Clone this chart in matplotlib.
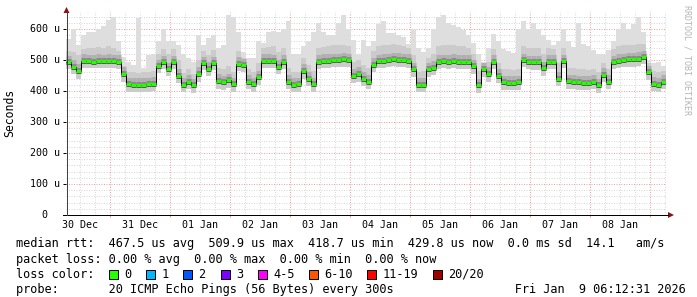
import numpy as np
import matplotlib
matplotlib.use("Agg")
import matplotlib.pyplot as plt
import matplotlib.dates as mdates
import matplotlib.transforms as mtransforms
from matplotlib.patches import Polygon, Rectangle
from matplotlib.lines import Line2D
from matplotlib.ticker import FixedLocator
from datetime import datetime, timedelta

W, H = 697, 297
MONO = "DejaVu Sans Mono"

# ---------------- data (microseconds) ----------------
start = datetime(2025, 12, 30, 6, 12, 31)
end = datetime(2026, 1, 9, 6, 12, 31)
step_hours = 2

median_us = [
    492, 478, 465, 498, 496, 495, 497, 496, 497, 496,
    494, 455, 422, 420, 420, 420, 422, 424, 480, 493,
    470, 493, 450, 420, 430, 418, 455, 490, 472, 490,
    433, 428, 435, 421, 488, 483, 430, 422, 445, 497,
    497, 496, 478, 495, 430, 420, 422, 465, 440, 421,
    495, 497, 498, 499, 500, 502, 500, 450, 455, 440,
    430, 485, 496, 497, 499, 503, 501, 499, 497, 470,
    420, 420, 470, 475, 495, 496, 495, 497, 495, 494,
    495, 480, 418, 470, 455, 494, 450, 428, 427, 427,
    428, 500, 493, 492, 492, 473, 495, 495, 440, 496,
    432, 430, 428, 427, 426, 430, 418, 452, 430, 493,
    498, 500, 502, 502, 504, 509, 460, 423, 420, 430,
]
smoke_lo_us = [
    470, 455, 440, 475, 474, 473, 475, 474, 475, 474,
    472, 430, 398, 396, 396, 397, 398, 400, 458, 470,
    448, 470, 425, 396, 405, 395, 430, 468, 448, 467,
    408, 404, 410, 397, 465, 460, 405, 398, 420, 474,
    474, 473, 455, 472, 405, 396, 398, 440, 416, 397,
    472, 474, 474, 476, 477, 479, 476, 425, 430, 415,
    405, 462, 473, 474, 476, 480, 478, 476, 474, 446,
    396, 396, 446, 452, 472, 473, 472, 474, 472, 471,
    472, 456, 394, 445, 430, 470, 425, 404, 403, 403,
    404, 477, 470, 469, 469, 450, 472, 472, 415, 473,
    408, 406, 404, 403, 402, 406, 394, 428, 406, 470,
    475, 477, 479, 479, 481, 486, 436, 399, 396, 406,
]
smoke_hi_us = [
    530, 525, 515, 535, 540, 538, 542, 540, 545, 540,
    530, 480, 462, 460, 458, 460, 462, 465, 520, 535,
    520, 535, 500, 458, 470, 455, 500, 530, 515, 532,
    475, 470, 480, 462, 530, 505, 470, 462, 490, 540,
    542, 545, 525, 540, 475, 460, 462, 505, 485, 465,
    540, 542, 545, 548, 550, 550, 545, 495, 500, 485,
    475, 530, 545, 548, 548, 552, 548, 546, 540, 515,
    462, 465, 505, 520, 545, 548, 550, 548, 545, 545,
    540, 520, 465, 490, 495, 535, 490, 470, 470, 468,
    470, 545, 540, 538, 540, 520, 538, 535, 490, 540,
    475, 475, 472, 470, 468, 470, 462, 490, 472, 535,
    545, 548, 550, 550, 552, 552, 490, 465, 462, 465,
]
smoke_max_us = [
    567, 600, 550, 580, 590, 590, 600, 610, 630, 640,
    560, 510, 495, 485, 635, 475, 515, 520, 560, 600,
    560, 560, 550, 520, 505, 495, 580, 550, 570, 580,
    540, 547, 645, 640, 590, 525, 505, 505, 560, 555,
    590, 595, 590, 600, 625, 520, 520, 545, 560, 590,
    620, 590, 580, 580, 620, 645, 600, 565, 520, 565,
    545, 560, 615, 625, 586, 586, 580, 575, 553, 600,
    540, 525, 540, 600, 640, 645, 620, 612, 605, 596,
    580, 555, 520, 495, 540, 585, 560, 535, 530, 524,
    600, 625, 600, 620, 600, 580, 565, 550, 560, 600,
    560, 541, 620, 553, 545, 531, 520, 520, 531, 560,
    600, 620, 601, 615, 640, 590, 500, 490, 492, 482,
]

y_ticks_us = [0, 100, 200, 300, 400, 500, 600]
y_tick_labels = ["  0  ", "100 u", "200 u", "300 u", "400 u", "500 u", "600 u"]

legend_rtt = "median rtt:  467.5 us avg  509.9 us max  418.7 us min  429.8 us now  0.0 ms sd  14.1   am/s"
legend_loss = "packet loss: 0.00 % avg  0.00 % max  0.00 % min  0.00 % now"
legend_probe = "probe:       20 ICMP Echo Pings (56 Bytes) every 300s                 Fri Jan  9 06:12:31 2026"
loss_labels = ["0", "1", "2", "3", "4-5", "6-10", "11-19", "20/20"]
loss_colors = ["#26ff00", "#00b8ff", "#0059ff", "#7e00ff", "#ff00ff", "#ff5500", "#ff0000", "#a10000"]

# ---------------- figure ----------------
fig = plt.figure(figsize=(W / 100, H / 100), dpi=100)
fig.patch.set_facecolor("white")


def fx(px):
    return px / W


def fy(py):
    return 1 - py / H


AX_L, AX_R, AX_B, AX_T = 66, 666, 215, 12
PX_PER_U = 0.31
ax = fig.add_axes([fx(AX_L), fy(AX_B), fx(AX_R) - fx(AX_L), fy(AX_T) - fy(AX_B)])
ax.set_facecolor("white")

t = np.array([mdates.date2num(start + timedelta(hours=step_hours * i)) for i in range(len(median_us))])
t_end = t + step_hours / 24.0
edges = np.append(t, t_end[-1])

med = np.array(median_us, float)
lo = np.array(smoke_lo_us, float)
hi = np.array(smoke_hi_us, float)
mx = np.array(smoke_max_us, float)


def ext(a):
    return np.append(a, a[-1])


ax.set_xlim(mdates.date2num(start), mdates.date2num(end))
ax.set_ylim(0, (AX_B - AX_T) / PX_PER_U)

# smoke
ax.fill_between(edges, ext(lo), ext(mx), step="post", color="#dedede", lw=0, zorder=2)
ax.fill_between(edges, ext(lo), ext(hi), step="post", color="#cbcbcb", lw=0, zorder=3)


def shifted(px):
    return ax.transData + mtransforms.ScaledTranslation(0, px / 100, fig.dpi_scale_trans)


ax.hlines(med, t, t_end, colors="#b0b0b0", lw=9 * 0.72, transform=shifted(2.5), zorder=4)
ax.hlines(med, t, t_end, colors="#8a8a8a", lw=5 * 0.72, transform=shifted(1), zorder=5)
ax.hlines(med, t, t_end, colors="#5a5a5a", lw=3 * 0.72, transform=shifted(-1), zorder=5.5)

# median
ax.step(edges, ext(med), where="post", color="#000000", lw=1.0 * 0.72, zorder=6)
ax.hlines(med, t, t_end, colors="#26ff00", lw=3 * 0.72, zorder=7)

# grid
ax.set_axisbelow(True)
ax.yaxis.set_major_locator(FixedLocator(y_ticks_us))
ax.yaxis.set_minor_locator(FixedLocator([v for v in range(20, 660, 20) if v % 100]))
ax.xaxis.set_major_locator(mdates.DayLocator())
ax.xaxis.set_minor_locator(mdates.HourLocator(byhour=[6, 12, 18]))
dotted = (0, (1, 1.5))
ax.grid(which="minor", color="#d8d8d8", ls=dotted, lw=0.72, zorder=1)
ax.grid(which="major", color="#f4a0a0", ls=dotted, lw=0.72, zorder=1)
ax.tick_params(which="both", labelbottom=False, labelleft=False)
ax.tick_params(axis="y", which="major", length=3 * 0.72, width=0.72, color="#000000", direction="out")
ax.tick_params(axis="x", which="major", length=2 * 0.72, width=0.72, color="#f09090", direction="out")
ax.tick_params(which="minor", length=0)
for s in ax.spines.values():
    s.set_visible(False)

# y tick labels
ytr = mtransforms.blended_transform_factory(fig.transFigure, ax.transData)
for v, lab in zip(y_ticks_us, y_tick_labels):
    ax.text(fx(30), v, lab, transform=ytr, ha="left", va="center", fontsize=7.2,
            family=MONO, color="#000000", clip_on=False)

# x tick labels at noon
xtr = mtransforms.blended_transform_factory(ax.transData, fig.transFigure)
d = datetime(start.year, start.month, start.day, 12)
while d < end:
    ax.text(mdates.date2num(d), fy(225), d.strftime("%d %b"), transform=xtr, ha="center",
            va="center", fontsize=7.2, family=MONO, color="#000000", clip_on=False)
    d += timedelta(days=1)

# axes lines and arrows
fig.add_artist(Line2D([fx(63), fx(668)], [fy(215), fy(215)], color="#000000", lw=0.72))
fig.add_artist(Line2D([fx(66.5), fx(66.5)], [fy(215), fy(12)], color="#404040", lw=0.72))
fig.add_artist(Polygon([[fx(668), fy(212)], [fx(674), fy(215)], [fx(668), fy(218)]],
                       closed=True, transform=fig.transFigure, color="#8b1010", lw=0))
fig.add_artist(Polygon([[fx(63.5), fy(13)], [fx(66.5), fy(7)], [fx(69.5), fy(13)]],
                       closed=True, transform=fig.transFigure, color="#8b1010", lw=0))

# side texts
fig.text(fx(10), fy(113), "Seconds", rotation=90, ha="center", va="center", fontsize=8.3,
         family=MONO, color="#000000")
fig.text(fx(687), fy(5), "RRDTOOL / TOBI OETIKER", rotation=270, ha="center", va="top",
         fontsize=6.0, family=MONO, color="#b4b4b4")

# legend
LEG_FS = 8.55
ROWS = [244, 259, 274, 289]
fig.text(fx(16), fy(ROWS[0]), legend_rtt, ha="left", va="center", fontsize=LEG_FS, family=MONO)
fig.text(fx(16), fy(ROWS[1]), legend_loss, ha="left", va="center", fontsize=LEG_FS, family=MONO)
fig.text(fx(16), fy(ROWS[2]), "loss color:", ha="left", va="center", fontsize=LEG_FS, family=MONO)
fig.text(fx(16), fy(ROWS[3]), legend_probe, ha="left", va="center", fontsize=LEG_FS, family=MONO)
box_x = [108.6, 146, 183, 221, 258, 309, 367, 433]
for bx, lab, col in zip(box_x, loss_labels, loss_colors):
    fig.add_artist(Rectangle((fx(bx), fy(ROWS[2] + 4.5)), fx(9) - fx(0), fy(0) - fy(9),
                             transform=fig.transFigure, facecolor=col, edgecolor="#000000", lw=0.72))
    fig.text(fx(bx + 15.5), fy(ROWS[2]), lab, ha="left", va="center", fontsize=LEG_FS, family=MONO)

fig.savefig("out.png", dpi=100, facecolor="white")
